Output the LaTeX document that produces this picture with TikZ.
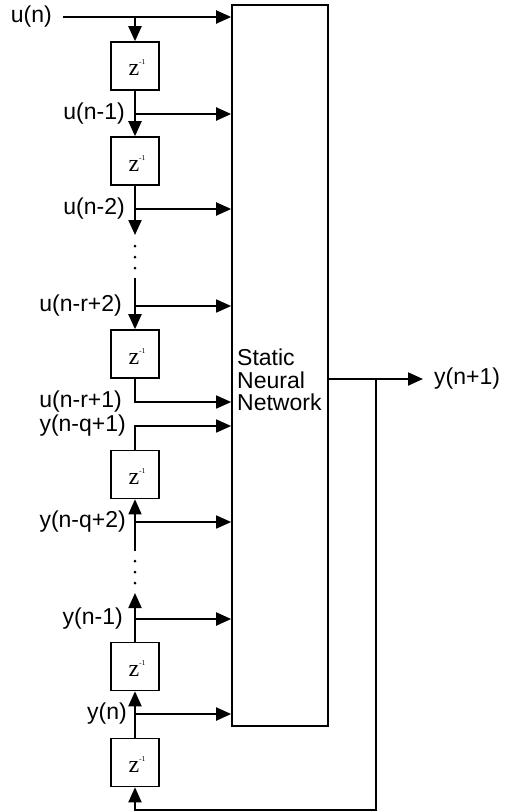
\documentclass[tikz,border=0pt]{standalone}
\usepackage{fontspec}
\setmainfont{Liberation Sans}
\newfontfamily\zfont{Liberation Serif}
\usetikzlibrary{arrows.meta}
\tikzset{
  wire/.style={line width=2.1bp},
  thinwire/.style={line width=1.6bp},
  arr/.style={-{Triangle[length=15bp,width=13bp]}},
  delaybox/.style={draw,line width=1.6bp,minimum width=48bp,minimum height=48bp,inner sep=0pt},
  lbl/.style={font=\fontsize{23bp}{24bp}\selectfont,inner sep=0pt},
  dotmark/.style={fill=black},
}
\newcommand{\zinv}{{\zfont\fontsize{24bp}{24bp}\selectfont z\raisebox{11bp}{\fontsize{7.5bp}{8bp}\selectfont -1}}}
\begin{document}
\begin{tikzpicture}[x=1bp,y=-1bp]
\useasboundingbox (0,0) rectangle (508,812);
% main network box
\node[draw,line width=1.7bp,minimum width=96bp,minimum height=721bp,inner sep=0pt] (nn) at (280,365.5) {};
\node[lbl,anchor=west,align=left,font=\fontsize{23bp}{22.5bp}\selectfont] (nntext) at (237,380) {Static\\Neural\\Network};
% delay boxes
\node[delaybox] (d1) at (135,66) {};
\node[delaybox] (d2) at (135,161) {};
\node[delaybox] (d3) at (135,354) {};
\node[delaybox] (d4) at (135,474.5) {};
\node[delaybox] (d5) at (135,666.5) {};
\node[delaybox] (d6) at (135,762.5) {};
\foreach \d in {d1,d2,d3,d4,d5,d6}{
  \node[inner sep=0pt,anchor=base] (\d z) at ([xshift=2bp,yshift=-10bp]\d.center) {\zinv};
}
% coordinates
\coordinate (uin) at (63,17);
\coordinate (j0) at (135,17);
\coordinate (j1) at (135,114);
\coordinate (j2) at (135,209);
\coordinate (a2) at (135,235);
\coordinate (s3) at (135,278);
\coordinate (j3) at (135,306);
\coordinate (c4) at (135,402);
\coordinate (c5) at (135,426);
\coordinate (j5) at (135,522);
\coordinate (e5) at (135,551);
\coordinate (a6) at (135,593);
\coordinate (j6) at (135,619);
\coordinate (j7) at (135,714);
\coordinate (out) at (423,379);
\coordinate (fb) at (376,379);
\coordinate (fbb) at (376,810);
\coordinate (fbl) at (135,810);
% u chain
\draw[wire,arr] (uin) -- (nn.west |- uin);
\draw[wire,arr] (j0) -- (d1.north);
\draw[wire,arr] (d1.south) -- (d2.north);
\draw[wire,arr] (j1) -- (nn.west |- j1);
\draw[wire,arr] (d2.south) -- (a2);
\draw[wire,arr] (j2) -- (nn.west |- j2);
\foreach \yy in {246,257,268} \fill[dotmark] (135,\yy) circle (1.5bp);
\draw[wire,arr] (s3) -- (d3.north);
\draw[thinwire,arr] (j3) -- (nn.west |- j3);
\draw[thinwire,arr] (d3.south) -- (c4) -- (nn.west |- c4);
% y chain
\draw[thinwire,arr] (d4.north) -- (c5) -- (nn.west |- c5);
\draw[thinwire,arr] (e5) -- (d4.south);
\draw[thinwire,arr] (j5) -- (nn.west |- j5);
\foreach \yy in {561,572,583} \fill[dotmark] (135,\yy) circle (1.5bp);
\draw[wire,arr] (d5.north) -- (a6);
\draw[wire,arr] (j6) -- (nn.west |- j6);
\draw[wire,arr] (d6.north) -- (d5.south);
\draw[wire,arr] (j7) -- (nn.west |- j7);
% output and feedback
\draw[wire,arr] (nn.east |- out) -- (out);
\draw[arr,line width=1.9bp] (fb) -- (fbb) -- (fbl) -- (d6.south);
% labels
\node[lbl,anchor=east] (lun) at (52,17) {u(n)};
\node[lbl,anchor=east] (lun1) at (125,114) {u(n-1)};
\node[lbl,anchor=east] (lun2) at (125,209) {u(n-2)};
\node[lbl,anchor=east] (lunr2) at (122,306) {u(n-r+2)};
\node[lbl,anchor=east] (lunr1) at (122,402) {u(n-r+1)};
\node[lbl,anchor=east] (lynq1) at (126,426) {y(n-q+1)};
\node[lbl,anchor=east] (lynq2) at (126,522) {y(n-q+2)};
\node[lbl,anchor=east] (lyn1) at (123,619) {y(n-1)};
\node[lbl,anchor=east] (lyn) at (127,714) {y(n)};
\node[lbl,anchor=west] (lout) at (434,379) {y(n+1)};
\end{tikzpicture}
\end{document}
